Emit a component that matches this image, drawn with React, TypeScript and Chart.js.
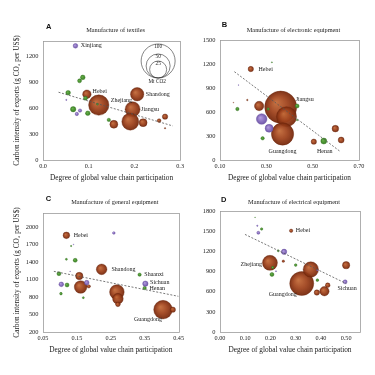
import React, { useEffect, useRef } from "react";
import { Chart, registerables } from "chart.js";

Chart.register(...registerables);

const SERIF = '"Liberation Serif", "Times New Roman", serif';
const SANS = '"Liberation Sans", Arial, sans-serif';

const X_TITLE = "Degree of global value chain participation";
const Y_TITLE = "Carbon intensity of exports (g CO\u2082 per US$)";

// ---------------- Panel A: Manufacture of textiles
const A_x = [0.071, 0.087, 0.08, 0.055, 0.096, 0.093, 0.122, 0.119, 0.206, 0.196, 0.191, 0.155, 0.219, 0.066, 0.081, 0.074, 0.098, 0.144, 0.254, 0.267, 0.267, 0.051];
const A_y = [1324, 958, 918, 780, 763, 717, 637, 648, 763, 589, 445, 414, 433, 589, 573, 534, 542, 465, 457, 503, 368, 697];
const A_em = [1.9, 1.9, 1.4, 1.9, 6.2, 1.4, 36, 0.35, 15.5, 19.5, 25, 5.5, 5.5, 2.5, 1.0, 1.0, 1.9, 1.0, 1.2, 2.5, 0.15, 0.12];
const A_grp = ["W", "C", "C", "C", "E", "C", "E", "C", "E", "E", "E", "E", "E", "C", "W", "W", "C", "C", "E", "E", "E", "W"];
const A_lbl = ["Xinjiang", "", "", "", "Hebei", "", "Zhejiang", "", "Shandong", "Jiangsu", "", "", "", "", "", "", "", "", "", "", "", ""];
const A_xTicks = [0, 0.1, 0.2, 0.3];
const A_yTicks = [0, 300, 600, 900, 1200];
const A_trendX = [0.034, 0.284];
const A_trendY = [786, 395];

// ---------------- Panel B: Manufacture of electronic equipment
const B_x = [0.233, 0.362, 0.387, 0.37, 0.269, 0.28, 0.312, 0.433, 0.308, 0.433, 0.284, 0.505, 0.548, 0.598, 0.623, 0.218, 0.324, 0.175, 0.18, 0.158];
const B_y = [1137, 662, 541, 325, 675, 512, 396, 675, 637, 500, 271, 229, 237, 392, 250, 750, 1221, 637, 937, 717];
const B_em = [2.5, 89, 35, 43, 7.6, 9.8, 5.5, 1.4, 0.5, 0.2, 1.0, 2.5, 3.1, 3.8, 3.1, 0.2, 0.1, 1.0, 0.05, 0.05];
const B_grp = ["E", "E", "E", "E", "E", "W", "W", "C", "C", "C", "C", "E", "C", "E", "E", "E", "C", "C", "W", "E"];
const B_lbl = ["Hebei", "Jiangsu", "", "Guangdong", "", "", "", "", "", "", "", "", "Henan", "", "", "", "", "", "", ""];
const B_xTicks = [0.1, 0.3, 0.5, 0.7];
const B_yTicks = [0, 300, 600, 900, 1200, 1500];
const B_trendX = [0.162, 0.62];
const B_trendY = [1104, 104];

// ---------------- Panel C: Manufacture of general equipment
const C_x = [0.119, 0.259, 0.133, 0.14, 0.119, 0.145, 0.223, 0.097, 0.157, 0.104, 0.121, 0.161, 0.179, 0.103, 0.169, 0.185, 0.268, 0.271, 0.271, 0.335, 0.352, 0.35, 0.404, 0.433, 0.13];
const C_y = [1857, 1897, 1674, 1700, 1446, 1429, 1274, 1200, 1160, 1017, 1006, 971, 1046, 857, 789, 983, 886, 771, 674, 1183, 1029, 954, 583, 583, 1240];
const C_em = [3.8, 0.6, 0.15, 0.05, 0.35, 1.4, 9.8, 1.4, 4.7, 1.9, 1.4, 13.9, 1.9, 0.6, 0.35, 1.0, 18.6, 9.8, 1.9, 1.0, 2.5, 1.0, 30, 2.5, 0.05];
const C_grp = ["E", "W", "C", "W", "C", "C", "E", "C", "E", "W", "C", "E", "W", "C", "C", "E", "E", "E", "E", "C", "W", "C", "E", "E", "W"];
const C_lbl = ["Hebei", "", "", "", "", "", "Shandong", "", "", "", "", "", "", "", "", "", "", "", "", "Shaanxi", "Sichuan", "Henan", "Guangdong", "", ""];
const C_xTicks = [0.05, 0.15, 0.25, 0.35, 0.45];
const C_yTicks = [200, 500, 800, 1100, 1400, 1700, 2000];
const C_trendX = [0.082, 0.45];
const C_trendY = [1240, 811];

// ---------------- Panel D: Manufacture of electrical equipment
const D_x = [0.282, 0.139, 0.148, 0.165, 0.152, 0.254, 0.231, 0.198, 0.209, 0.251, 0.206, 0.222, 0.3, 0.324, 0.36, 0.386, 0.384, 0.414, 0.427, 0.5, 0.496, 0.386];
const D_y = [1506, 1706, 1581, 1532, 1476, 1193, 1208, 1029, 960, 1054, 856, 905, 995, 721, 930, 771, 587, 607, 696, 994, 746, 920];
const D_em = [1.0, 0.05, 0.15, 0.5, 0.8, 2.5, 0.35, 19.5, 0.5, 0.5, 1.4, 0.1, 0.6, 50, 20.5, 0.6, 2.5, 7.6, 1.9, 4.7, 1.4, 0.2];
const D_grp = ["E", "C", "W", "C", "W", "W", "C", "E", "C", "E", "C", "W", "C", "E", "E", "C", "E", "E", "E", "E", "W", "W"];
const D_lbl = ["Hebei", "", "", "", "", "", "", "Zhejiang", "", "", "", "", "", "Guangdong", "", "", "", "", "", "", "Sichuan", ""];
const D_xTicks = [0, 0.1, 0.2, 0.3, 0.4, 0.5];
const D_yTicks = [0, 300, 600, 900, 1200, 1500, 1800];
const D_trendX = [0.099, 0.5];
const D_trendY = [1452, 721];

const LEGEND_EM = [100, 50, 25];
const LEGEND_UNIT = "Mt CO2";

// ---------------- styling / layout (kept out of the data arrays)
const R100 = 17;
const radiusOf = (em: number) => R100 * Math.sqrt(em / 100);

const STY: Record<string, { inner: string; mid: string; outer: string; border: string }> = {
  E: { inner: "rgba(196,108,58,0.95)", mid: "rgba(160,68,30,0.95)", outer: "rgba(118,40,12,0.95)", border: "rgba(105,36,10,0.9)" },
  C: { inner: "#6cb24d", mid: "#4d9734", outer: "#3c7f27", border: "#3a7a25" },
  W: { inner: "#b7a0e2", mid: "#9077c4", outer: "#7058a8", border: "#6a52a2" },
};

type Place = { mode: "right" | "left" | "free"; dx: number; dy: number; align?: CanvasTextAlign };
const LABEL_PLACE: Record<string, Record<string, Place>> = {
  A: {
    Xinjiang: { mode: "right", dx: 3, dy: 0 },
    Hebei: { mode: "right", dx: 1.5, dy: -3 },
    Zhejiang: { mode: "free", dx: 12, dy: -5, align: "left" },
    Shandong: { mode: "right", dx: 2, dy: 0 },
    Jiangsu: { mode: "right", dx: 1, dy: 0.5 },
  },
  B: {
    Hebei: { mode: "right", dx: 5, dy: 0 },
    Jiangsu: { mode: "free", dx: 15, dy: -8, align: "left" },
    Guangdong: { mode: "free", dx: 0, dy: 17, align: "center" },
    Henan: { mode: "free", dx: 1, dy: 10, align: "center" },
  },
  C: {
    Hebei: { mode: "right", dx: 4, dy: 0 },
    Shandong: { mode: "right", dx: 4.5, dy: 0 },
    Shaanxi: { mode: "right", dx: 3, dy: 0 },
    Sichuan: { mode: "right", dx: 2, dy: -1 },
    Henan: { mode: "right", dx: 3, dy: 0.5 },
    Guangdong: { mode: "free", dx: -15, dy: 10, align: "center" },
  },
  D: {
    Hebei: { mode: "right", dx: 3, dy: 0 },
    Zhejiang: { mode: "left", dx: 0.5, dy: 1.5 },
    Guangdong: { mode: "free", dx: -19, dy: 11, align: "center" },
    Sichuan: { mode: "free", dx: 2, dy: 6.5, align: "center" },
  },
};

type Spec = {
  letter: string; title: string;
  x: number[]; y: number[]; em: number[]; grp: string[]; lbl: string[];
  xMin: number; xMax: number; yMin: number; yMax: number;
  xTicks: number[]; yTicks: number[]; xDec: number;
  trendX: number[]; trendY: number[];
  yTitle: boolean; legend: boolean;
  L: { left: number; top: number; w: number; h: number; plotL: number; plotT: number; plotR: number; plotB: number; titleY: number; letterX: number; letterY: number; xTitlePad: number };
};

const PANELS: Spec[] = [
  {
    letter: "A", title: "Manufacture of textiles",
    x: A_x, y: A_y, em: A_em, grp: A_grp, lbl: A_lbl,
    xMin: 0, xMax: 0.3, yMin: 0, yMax: 1380, xTicks: A_xTicks, yTicks: A_yTicks, xDec: 1,
    trendX: A_trendX, trendY: A_trendY, yTitle: true, legend: true,
    L: { left: 0, top: 0, w: 187, h: 187, plotL: 43, plotT: 41, plotR: 183, plotB: 160, titleY: 30, letterX: 46, letterY: 27, xTitlePad: 4.5 },
  },
  {
    letter: "B", title: "Manufacture of electronic equipment",
    x: B_x, y: B_y, em: B_em, grp: B_grp, lbl: B_lbl,
    xMin: 0.1, xMax: 0.7, yMin: 0, yMax: 1500, xTicks: B_xTicks, yTicks: B_yTicks, xDec: 2,
    trendX: B_trendX, trendY: B_trendY, yTitle: false, legend: false,
    L: { left: 187, top: 0, w: 188, h: 187, plotL: 33, plotT: 40, plotR: 172, plotB: 160, titleY: 30, letterX: 34.7, letterY: 24.5, xTitlePad: 4.5 },
  },
  {
    letter: "C", title: "Manufacture of general equipment",
    x: C_x, y: C_y, em: C_em, grp: C_grp, lbl: C_lbl,
    xMin: 0.05, xMax: 0.45, yMin: 200, yMax: 2240, xTicks: C_xTicks, yTicks: C_yTicks, xDec: 2,
    trendX: C_trendX, trendY: C_trendY, yTitle: true, legend: false,
    L: { left: 0, top: 187, w: 187, h: 188, plotL: 43, plotT: 26, plotR: 183, plotB: 145, titleY: 15.3, letterX: 45.7, letterY: 12, xTitlePad: 20.5 },
  },
  {
    letter: "D", title: "Manufacture of electrical equipment",
    x: D_x, y: D_y, em: D_em, grp: D_grp, lbl: D_lbl,
    xMin: 0, xMax: 0.555, yMin: 0, yMax: 1800, xTicks: D_xTicks, yTicks: D_yTicks, xDec: 2,
    trendX: D_trendX, trendY: D_trendY, yTitle: false, legend: false,
    L: { left: 187, top: 187, w: 188, h: 188, plotL: 33, plotT: 24, plotR: 173, plotB: 145, titleY: 15.3, letterX: 34, letterY: 12.5, xTitlePad: 20.5 },
  },
];

const gradFor = (g: string) => (ctx: any) => {
  const s = STY[g];
  if (ctx.type !== "data" || !ctx.raw) return s.mid;
  const ch = ctx.chart;
  const xs = ch.scales.x, ys = ch.scales.y;
  if (!xs || !ys) return s.mid;
  const cx = xs.getPixelForValue(ctx.raw.x);
  const cy = ys.getPixelForValue(ctx.raw.y);
  const r = Math.max(ctx.raw.r, 0.5);
  if (!isFinite(cx) || !isFinite(cy) || !isFinite(r)) return s.mid;
  const gr = ch.ctx.createRadialGradient(cx - r * 0.3, cy - r * 0.3, 0, cx, cy, r);
  gr.addColorStop(0, s.inner);
  gr.addColorStop(0.55, s.mid);
  gr.addColorStop(1, s.outer);
  return gr;
};

function makeConfig(p: Spec): any {
  const L = p.L;
  const groupData = (g: string) =>
    p.x
      .map((x, i) => ({ x, y: p.y[i], r: radiusOf(p.em[i]) }))
      .filter((_, i) => p.grp[i] === g);

  const datasets: any[] = [
    {
      type: "line",
      data: p.trendX.map((x, i) => ({ x, y: p.trendY[i] })),
      borderColor: "#555",
      borderWidth: 0.8,
      borderDash: [2, 1.6],
      pointRadius: 0,
      fill: false,
      order: 0,
    },
    ...["W", "C", "E"].map((g, k) => ({
      type: "bubble",
      data: groupData(g),
      backgroundColor: gradFor(g),
      borderColor: STY[g].border,
      borderWidth: 0.4,
      order: k + 1,
    })),
  ];

  const annot = {
    id: "annot" + p.letter,
    beforeDatasetsDraw(chart: any) {
      const { ctx, chartArea: a } = chart;
      ctx.save();
      ctx.strokeStyle = "#9c9c9c";
      ctx.lineWidth = 0.8;
      ctx.strokeRect(Math.round(a.left) + 0.5, Math.round(a.top) + 0.5, Math.round(a.right - a.left), Math.round(a.bottom - a.top));
      ctx.restore();
    },
    afterDraw(chart: any) {
      const { ctx, chartArea: a } = chart;
      const xs = chart.scales.x, ys = chart.scales.y;
      ctx.save();
      // panel title
      ctx.fillStyle = "#222";
      ctx.font = `6.3px ${SERIF}`;
      ctx.textAlign = "center";
      ctx.textBaseline = "middle";
      ctx.fillText(p.title, (a.left + a.right) / 2 + 4, L.titleY);
      // panel letter
      ctx.fillStyle = "#111";
      ctx.font = `bold 7.5px ${SANS}`;
      ctx.textAlign = "left";
      ctx.fillText(p.letter, L.letterX, L.letterY);
      // point labels
      ctx.fillStyle = "#1a1a1a";
      ctx.font = `6px ${SERIF}`;
      p.lbl.forEach((name, i) => {
        if (!name) return;
        const pl = LABEL_PLACE[p.letter][name];
        if (!pl) return;
        const cx = xs.getPixelForValue(p.x[i]);
        const cy = ys.getPixelForValue(p.y[i]);
        const r = radiusOf(p.em[i]);
        let x = cx, y = cy + pl.dy;
        let align: CanvasTextAlign = "left";
        if (pl.mode === "right") { x = cx + r + pl.dx; align = "left"; }
        else if (pl.mode === "left") { x = cx - r - pl.dx; align = "right"; }
        else { x = cx + pl.dx; align = pl.align || "left"; }
        ctx.textAlign = align;
        ctx.fillText(name, x, y);
      });
      // size legend
      if (p.legend) {
        const cx = a.right - 22;
        const by = a.top + 37;
        ctx.strokeStyle = "#333";
        ctx.lineWidth = 0.6;
        ctx.fillStyle = "#1a1a1a";
        ctx.font = `5.3px ${SERIF}`;
        ctx.textAlign = "center";
        LEGEND_EM.forEach((v) => {
          const r = radiusOf(v);
          ctx.beginPath();
          ctx.arc(cx, by - r, r, 0, Math.PI * 2);
          ctx.stroke();
        });
        LEGEND_EM.forEach((v) => {
          const r = radiusOf(v);
          ctx.fillText(String(v), cx, by - 2 * r + 2.8);
        });
        ctx.fillText(LEGEND_UNIT, cx - 1, by + 3.6);
      }
      ctx.restore();
    },
  };

  return {
    type: "bubble",
    data: { datasets },
    options: {
      responsive: false,
      maintainAspectRatio: false,
      animation: false,
      events: [],
      layout: { autoPadding: false, padding: { left: 0, top: L.plotT, right: L.w - L.plotR, bottom: 0 } },
      plugins: { legend: { display: false }, tooltip: { enabled: false }, title: { display: false } },
      scales: {
        x: {
          type: "linear",
          min: p.xMin,
          max: p.xMax,
          grid: { display: false, drawTicks: false, tickLength: 0 },
          border: { display: false },
          afterBuildTicks: (s: any) => { s.ticks = p.xTicks.map((v) => ({ value: v })); },
          ticks: {
            autoSkip: false, maxRotation: 0, padding: 3, color: "#222",
            font: { family: SERIF, size: 6.2 },
            callback: (v: any) => Number(v).toFixed(p.xDec),
          },
          title: {
            display: true, text: X_TITLE, color: "#1a1a1a",
            font: { family: SERIF, size: 7.3 },
            padding: { top: 0, bottom: L.xTitlePad },
          },
          afterFit: (s: any) => { s.height = L.h - L.plotB; },
        },
        y: {
          type: "linear",
          min: p.yMin,
          max: p.yMax,
          grid: { display: false, drawTicks: false, tickLength: 0 },
          border: { display: false },
          afterBuildTicks: (s: any) => { s.ticks = p.yTicks.map((v) => ({ value: v })); },
          ticks: {
            autoSkip: false, padding: 4.5, color: "#222",
            font: { family: SERIF, size: 6.4 },
            callback: (v: any) => String(Math.round(Number(v))),
          },
          title: {
            display: p.yTitle, text: Y_TITLE, color: "#1a1a1a",
            font: { family: SERIF, size: 7.3 },
            padding: { top: 12.6, bottom: 0 },
          },
          afterFit: (s: any) => { s.width = L.plotL; },
        },
      },
    },
    plugins: [annot],
  };
}

function Panel({ p }: { p: Spec }) {
  const ref = useRef<HTMLCanvasElement>(null);
  useEffect(() => {
    if (!ref.current) return;
    const chart = new Chart(ref.current, makeConfig(p));
    return () => chart.destroy();
  }, [p]);
  return (
    <canvas
      ref={ref}
      width={p.L.w}
      height={p.L.h}
      style={{ position: "absolute", left: p.L.left, top: p.L.top, width: p.L.w, height: p.L.h }}
    />
  );
}

export default function App() {
  return (
    <div style={{ position: "fixed", left: 0, top: 0, width: 375, height: 375, background: "#fff", overflow: "hidden" }}>
      {PANELS.map((p) => (
        <Panel key={p.letter} p={p} />
      ))}
    </div>
  );
}
